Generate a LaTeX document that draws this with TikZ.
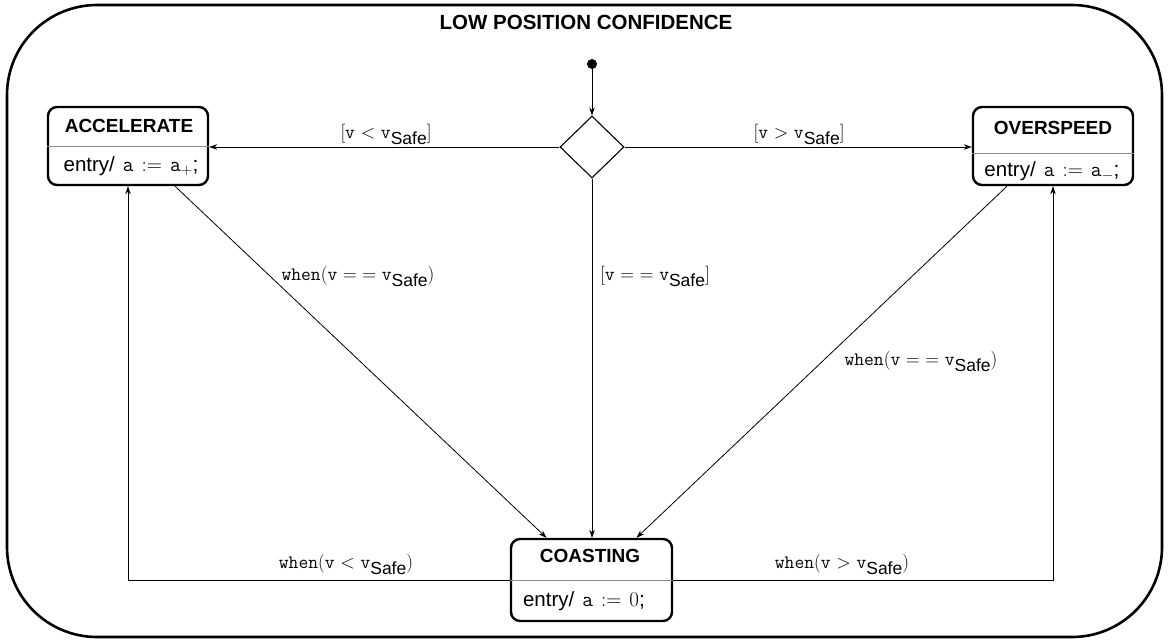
\RequirePackage{fix-cm}
\documentclass[tikz,border=0pt]{standalone}
\usepackage{fontspec}
\usetikzlibrary{shapes.geometric,arrows.meta,calc}
\newfontfamily\hv{Liberation Sans}
% typewriter identifiers
\newcommand{\tv}[1]{{\ttfamily #1}}
% guard value v_Safe: typewriter v with a lowered sans subscript
\newcommand{\vsafe}{\tv{v}\raisebox{-6pt}{\hv\fontsize{17.5}{17}\selectfont Safe}}
% entry action "entry/ a := <value>;"
\newcommand{\entryact}[1]{entry/\hspace{8pt}{\fontsize{21}{22}\selectfont\tv{a}\hspace{8pt}$:=$\hspace{8pt}#1;}}
\begin{document}
\begin{tikzpicture}[x=1pt,y=-1pt,
  frame/.style={draw,line width=2.6pt,rounded corners=90pt},
  state/.style={draw,line width=2.4pt,rounded corners=9pt,inner sep=0pt},
  sttitle/.style={font=\hv\bfseries\fontsize{19}{21}\selectfont,inner sep=0pt},
  stentry/.style={font=\hv\fontsize{20.5}{23}\selectfont,inner sep=0pt},
  divider/.style={draw=black!45,line width=0.9pt},
  arr/.style={draw,line width=0.8pt,-{Stealth[length=8pt,width=5.5pt]}},
  guard/.style={font=\fontsize{19}{20}\selectfont,inner sep=0pt},
  choice/.style={draw,diamond,line width=1.1pt,minimum width=64pt,minimum height=62pt,inner sep=0pt},
  initial/.style={fill,circle,minimum size=10pt,inner sep=0pt}]
\useasboundingbox (0,0) rectangle (1168,643);

% enclosing composite state
\draw[frame] (7,5) rectangle (1162,637);
\node[font=\hv\bfseries\fontsize{20.5}{22}\selectfont,inner sep=0pt] (main) at (586,22) {LOW POSITION CONFIDENCE};

% states
\node[state,minimum width=160pt,minimum height=78pt] (acc) at (128,146) {};
\node[sttitle] (acct) at (129,126) {ACCELERATE};
\node[stentry] (acce) at (131,166) {\entryact{\tv{a}$_+$}};
\draw[divider] (acc.west |- 0,146) coordinate (accdl) -- (acc.east |- 0,146) coordinate (accdr);

\node[state,minimum width=160pt,minimum height=78pt] (ovs) at (1053,146) {};
\node[sttitle] (ovst) at (1053,128) {OVERSPEED};
\node[stentry] (ovse) at (1052,171) {\entryact{\tv{a}$_-$}};
\draw[divider] (ovs.west |- 0,153) coordinate (ovsdl) -- (ovs.east |- 0,153) coordinate (ovsdr);

\node[state,minimum width=161pt,minimum height=82pt] (coast) at (591.5,580) {};
\node[sttitle] (coastt) at (590,556) {COASTING};
\node[stentry] (coaste) at (584,601) {\entryact{$0$}};
\draw[divider] (coast.west) -- (coast.east);

% initial pseudostate and choice
\node[initial] (init) at (592,64) {};
\node[choice] (dec) at (592,147) {};

% transitions
\draw[arr] (init) -- (dec.north);
\draw[arr] (dec.west) -- (dec.west -| acc.east);
\draw[arr] (dec.east) -- (dec.east -| ovs.west);
\draw[arr] (dec.south) -- (dec.south |- coast.north);
\draw[arr] ([xshift=47pt]acc.south) -- ([xshift=-45pt]coast.north);
\draw[arr] ([xshift=-46pt]ovs.south) -- ([xshift=45pt]coast.north);
\draw[arr] (coast.west) -| (acc.south);
\draw[arr] (coast.east) -| (ovs.south);

% guards and triggers
\node[guard] (g1) at (386,134) {$[$\tv{v} $<$ \vsafe$]$};
\node[guard] (g2) at (799,134) {$[$\tv{v} $>$ \vsafe$]$};
\node[guard] (g3) at (655,276) {$[$\tv{v} $=$ $=$ \vsafe$]$};
\node[guard] (g4) at (358,276) {\tv{when}$($\tv{v} $=$ $=$ \vsafe$)$};
\node[guard] (g5) at (921,361) {\tv{when}$($\tv{v} $=$ $=$ \vsafe$)$};
\node[guard] (g6) at (346,564) {\tv{when}$($\tv{v} $<$ \vsafe$)$};
\node[guard] (g7) at (842,564) {\tv{when}$($\tv{v} $>$ \vsafe$)$};
\end{tikzpicture}
\end{document}
